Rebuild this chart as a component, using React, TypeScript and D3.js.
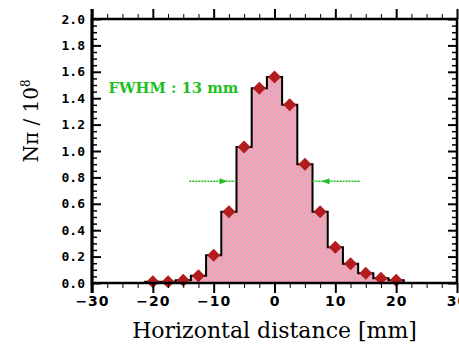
import { useRef, useEffect } from 'react';
import * as d3 from 'd3';

// bin centres [mm] and counts (units of 10^8)
const positions = [-20, -17.5, -15, -12.5, -10, -7.5, -5, -2.5, 0, 2.5, 5, 7.5, 10, 12.5, 15, 17.5, 20];
const counts = [0.01, 0.01, 0.02, 0.055, 0.21, 0.54, 1.03, 1.475, 1.56, 1.35, 0.9, 0.54, 0.27, 0.145, 0.073, 0.036, 0.02];
const xTicks = [-30, -20, -10, 0, 10, 20, 30];
const yTicks = [0, 0.2, 0.4, 0.6, 0.8, 1.0, 1.2, 1.4, 1.6, 1.8, 2.0];
const fwhmLeft = [-14, -6.25];
const fwhmRight = [6.25, 14];
const fwhmLevel = 0.77;
const binWidth = 2.5;

export default function App() {
  const svgRef = useRef<SVGSVGElement>(null);

  useEffect(() => {
    const w = 459, h = 345;
    const m = { t: 19, r: 2, b: 62, l: 92 };

    const svg = d3.select(svgRef.current)
      .attr('width', w)
      .attr('height', h);
    svg.selectAll('*').remove();

    const x = d3.scaleLinear().domain([-30, 30]).range([m.l, w - m.r]);
    const y = d3.scaleLinear().domain([0, 2]).range([h - m.b, m.t]);

    // dithered pink fill like the original
    const pat = svg.append('defs').append('pattern')
      .attr('id', 'dither').attr('patternUnits', 'userSpaceOnUse')
      .attr('width', 4).attr('height', 4);
    pat.append('rect').attr('width', 4).attr('height', 4).attr('fill', '#deb2ad');
    pat.append('path').attr('d', 'M0,0h2v2h-2zM2,2h2v2h-2z').attr('fill', '#f79ac8');

    // histogram as a step outline
    const pts: [number, number][] = [];
    positions.forEach((p, i) => {
      pts.push([p - binWidth / 2, counts[i]]);
      pts.push([p + binWidth / 2, counts[i]]);
    });
    const area = d3.area<[number, number]>()
      .x(d => x(d[0])).y0(y(0)).y1(d => y(d[1]));
    const line = d3.line<[number, number]>()
      .x(d => x(d[0])).y(d => y(d[1]));

    svg.append('path')
      .datum(pts)
      .attr('fill', 'url(#dither)')
      .attr('d', area);

    const outline: [number, number][] = [[positions[0] - binWidth / 2, 0], ...pts, [positions[positions.length - 1] + binWidth / 2, 0]];
    svg.append('path')
      .datum(outline)
      .attr('fill', 'none')
      .attr('stroke', '#000')
      .attr('stroke-width', 2)
      .attr('d', line);

    // FWHM markers
    const green = '#1fbf1f';
    [fwhmLeft, fwhmRight].forEach((seg, k) => {
      svg.append('line')
        .attr('x1', x(seg[0])).attr('x2', x(seg[1]))
        .attr('y1', y(fwhmLevel)).attr('y2', y(fwhmLevel))
        .attr('stroke', green).attr('stroke-width', 1.5)
        .attr('stroke-dasharray', '2,1');
      const tip = k === 0 ? x(seg[1]) - 9 : x(seg[0]) + 9;
      const dir = k === 0 ? 1 : -1;
      svg.append('path')
        .attr('d', `M${tip - dir * 8},${y(fwhmLevel) - 3} L${tip},${y(fwhmLevel)} L${tip - dir * 8},${y(fwhmLevel) + 3} Z`)
        .attr('fill', green);
    });

    svg.append('text')
      .attr('x', x(-27.3)).attr('y', y(1.44))
      .attr('fill', green)
      .attr('textLength', 130)
      .attr('lengthAdjust', 'spacingAndGlyphs')
      .style('font', 'bold 14px "DejaVu Serif"')
      .text('FWHM : 13 mm');

    // data markers
    svg.append('g')
      .selectAll('path')
      .data(positions)
      .join('path')
        .attr('transform', (d, i) => `translate(${x(d)},${y(counts[i])})`)
        .attr('d', 'M0,-6.5 L6.5,0 L0,6.5 L-6.5,0 Z')
        .attr('fill', '#b31c1c');

    // frame
    svg.append('rect')
      .attr('x', x(-30)).attr('y', y(2))
      .attr('width', x(30) - x(-30)).attr('height', y(0) - y(2))
      .attr('fill', 'none').attr('stroke', '#000').attr('stroke-width', 2.5);
    svg.append('line')
      .attr('x1', x(-30)).attr('x2', x(-30)).attr('y1', y(2) - 10).attr('y2', y(0) + 10)
      .attr('stroke', '#000').attr('stroke-width', 3);

    // x ticks: outward on bottom and top
    const xMinor = d3.range(-30, 30.01, 2.5).filter(v => v % 10 !== 0);
    svg.append('g')
      .attr('transform', `translate(0,${y(0)})`)
      .call(d3.axisBottom(x).tickValues(xMinor).tickSize(5).tickFormat(() => ''))
      .call(g => g.select('.domain').remove());
    svg.append('g')
      .attr('transform', `translate(0,${y(0)})`)
      .call(d3.axisBottom(x).tickValues(xTicks).tickSize(10).tickPadding(3).tickFormat(d => d3.format('d')(d as number).replace('-', '\u2212')))
      .call(g => g.select('.domain').remove())
      .call(g => g.selectAll('line').attr('stroke-width', 2))
      .call(g => g.selectAll('text').style('font', 'bold 14px "DejaVu Sans"').attr('letter-spacing', 1).attr('fill', '#000'));
    svg.append('g')
      .attr('transform', `translate(0,${y(2)})`)
      .call(d3.axisTop(x).tickValues(xMinor).tickSize(5).tickFormat(() => ''))
      .call(g => g.select('.domain').remove());
    svg.append('g')
      .attr('transform', `translate(0,${y(2)})`)
      .call(d3.axisTop(x).tickValues(xTicks).tickSize(10).tickFormat(() => ''))
      .call(g => g.select('.domain').remove())
      .call(g => g.selectAll('line').attr('stroke-width', 2));

    // y ticks: inward on left and right
    const yMinor = d3.range(0, 2.001, 0.05).filter(v => Math.abs(v * 5 - Math.round(v * 5)) > 1e-6);
    svg.append('g')
      .attr('transform', `translate(${x(-30)},0)`)
      .call(d3.axisRight(y).tickValues(yMinor).tickSize(5).tickFormat(() => ''))
      .call(g => g.select('.domain').remove())
      .call(g => g.selectAll('line').attr('stroke-width', 1.5));
    svg.append('g')
      .attr('transform', `translate(${x(-30)},0)`)
      .call(d3.axisRight(y).tickValues(yTicks).tickSize(9).tickFormat(() => ''))
      .call(g => g.select('.domain').remove())
      .call(g => g.selectAll('line').attr('stroke-width', 2));
    svg.append('g')
      .attr('transform', `translate(${x(30)},0)`)
      .call(d3.axisLeft(y).tickValues(yMinor).tickSize(5).tickFormat(() => ''))
      .call(g => g.select('.domain').remove())
      .call(g => g.selectAll('line').attr('stroke-width', 1.5));
    svg.append('g')
      .attr('transform', `translate(${x(30)},0)`)
      .call(d3.axisLeft(y).tickValues(yTicks).tickSize(9).tickFormat(() => ''))
      .call(g => g.select('.domain').remove())
      .call(g => g.selectAll('line').attr('stroke-width', 2));

    // y tick labels
    svg.append('g')
      .selectAll('text')
      .data(yTicks)
      .join('text')
        .attr('x', x(-30) - 7)
        .attr('y', d => y(d))
        .attr('dy', '0.35em')
        .attr('text-anchor', 'end')
        .style('font', 'bold 13px "DejaVu Sans Mono"')
        .text(d => d3.format('.1f')(d));

    // axis titles
    svg.append('text')
      .attr('x', (x(-30) + x(30)) / 2)
      .attr('y', h - 7)
      .attr('text-anchor', 'middle')
      .style('font', '22px "DejaVu Serif"')
      .text('Horizontal distance [mm]');

    const yl = svg.append('text')
      .attr('transform', `translate(38,${(y(0) + y(2)) / 2 - 30}) rotate(-90)`)
      .attr('text-anchor', 'middle')
      .style('font', '20px "DejaVu Serif"');
    yl.append('tspan').text('N\u03c0 / 10');
    yl.append('tspan').attr('dy', -8).style('font-size', '12px').text('8');
  }, []);

  return (
    <div style={{ position: 'absolute', left: 0, top: 0 }}>
      <svg ref={svgRef}></svg>
    </div>
  );
}
